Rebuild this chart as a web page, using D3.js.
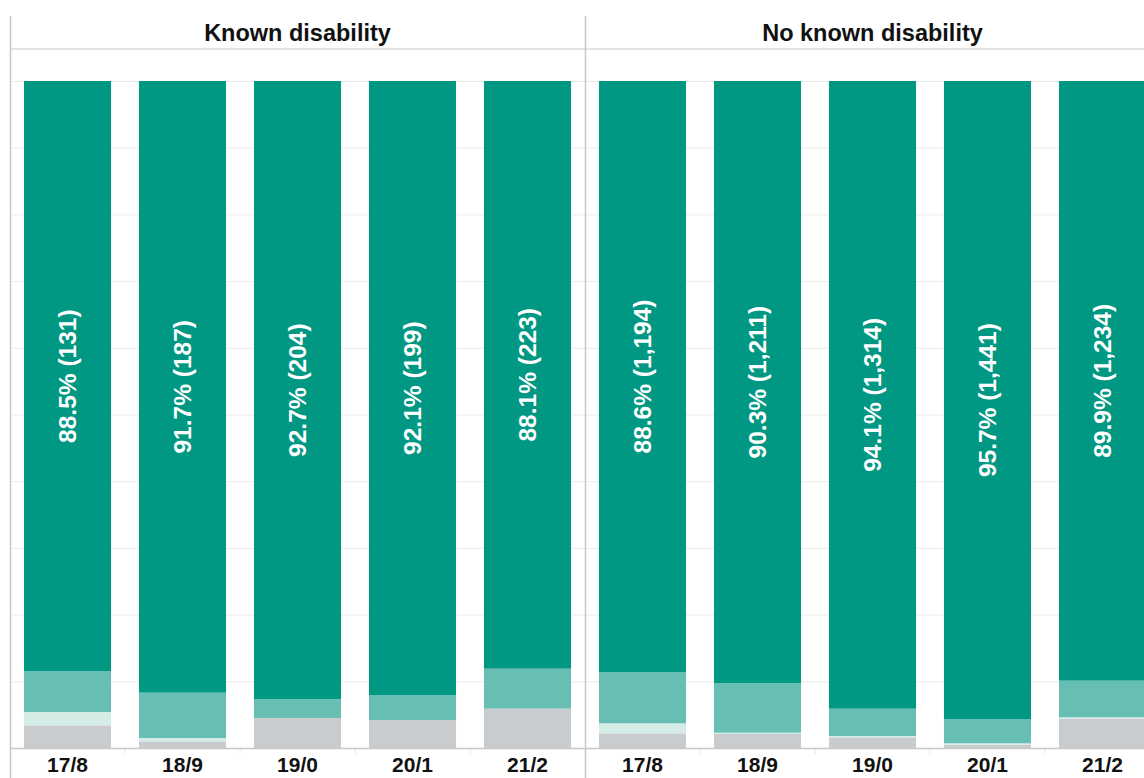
<!DOCTYPE html>
<html>
<head>
<meta charset="utf-8">
<script src="https://cdn.jsdelivr.net/npm/d3@7"></script>
<style>
  body { margin: 0; background: #fff; }
  svg { display: block; font-family: "Liberation Sans", Arial, sans-serif; }
</style>
</head>
<body>
<svg id="root"></svg>
<script>
// categories
const panels = ["Known disability", "No known disability"];
const years = ["17/8", "18/9", "19/0", "20/1", "21/2"];
const segments = ["grey", "light", "medium", "dark"];

// percentages per segment, Known disability
const knownGrey = [3.4, 1.0, 4.5, 4.2, 5.9];
const knownLight = [2.0, 0.5, 0, 0, 0];
const knownMedium = [6.1, 6.8, 2.8, 3.7, 6.0];
const knownDark = [88.5, 91.7, 92.7, 92.1, 88.1];
const knownCount = [131, 187, 204, 199, 223];

// percentages per segment, No known disability
const noGrey = [2.2, 2.1, 1.6, 0.5, 4.4];
const noLight = [1.5, 0.2, 0.2, 0.2, 0.2];
const noMedium = [7.7, 7.4, 4.1, 3.6, 5.5];
const noDark = [88.6, 90.3, 94.1, 95.7, 89.9];
const noCount = [1194, 1211, 1314, 1441, 1234];

const yTicks = [10, 20, 30, 40, 50, 60, 70, 80, 90, 100];

const colors = { grey: "#c9cccf", light: "#d5ebe6", medium: "#67bfb3", dark: "#009783" };

const width = 1144, height = 778;
const plotTop = 81, base = 748, left = 10;

const svg = d3.select("#root").attr("width", width).attr("height", height);

// build rows for the stack
function rows(grey, light, medium, dark, count) {
  return years.map((yr, i) => ({ year: yr, grey: grey[i], light: light[i], medium: medium[i], dark: dark[i], count: count[i] }));
}
const data = [
  { panel: panels[0], rows: rows(knownGrey, knownLight, knownMedium, knownDark, knownCount) },
  { panel: panels[1], rows: rows(noGrey, noLight, noMedium, noDark, noCount) }
];

const px = d3.scaleBand(panels, [left, left + 575 * 2]);
const x = d3.scaleBand(years, [0, px.bandwidth()]).paddingInner(0.243).paddingOuter(0.1215);
const y = d3.scaleLinear([0, 100], [base, plotTop]);

const stack = d3.stack().keys(segments);

data.forEach(p => {
  const g = svg.append("g").attr("transform", `translate(${px(p.panel)},0)`);

  // gridlines
  g.append("g")
    .call(d3.axisRight(y).tickValues(yTicks).tickSize(px.bandwidth()).tickFormat(""))
    .call(a => a.select(".domain").remove())
    .selectAll("line").attr("stroke", "#ececec");

  // bars
  const series = stack(p.rows);
  g.selectAll("g.seg").data(series).join("g")
    .attr("class", "seg")
    .attr("fill", d => colors[d.key])
    .selectAll("rect").data(d => d).join("rect")
    .attr("x", d => x(d.data.year))
    .attr("width", x.bandwidth())
    .attr("y", d => y(d[1]))
    .attr("height", d => y(d[0]) - y(d[1]));

  // labels in the dark segment
  const darkS = series.find(s => s.key === "dark");
  g.selectAll("text.lab").data(darkS).join("text")
    .attr("class", "lab")
    .attr("transform", d => `translate(${x(d.data.year) + x.bandwidth() / 2},${(y(d[0]) + y(d[1])) / 2}) rotate(-90)`)
    .attr("text-anchor", "middle")
    .attr("dominant-baseline", "central")
    .attr("fill", "#fff")
    .attr("font-size", 24.5)
    .attr("font-weight", "bold")
    .text(d => `${d.data.dark.toFixed(1)}% (${d3.format(",")(d.data.count)})`);

  // x axis labels
  g.append("g")
    .attr("transform", `translate(0,${base})`)
    .call(d3.axisBottom(x).tickSize(0).tickPadding(9))
    .call(a => a.select(".domain").remove())
    .selectAll("text")
    .attr("fill", "#111")
    .attr("font-size", 21)
    .attr("font-weight", "bold")
    .attr("font-family", "Liberation Sans, Arial, sans-serif");

  // faint tick marks between categories
  g.selectAll("line.sep").data(years.slice(1)).join("line")
    .attr("class", "sep")
    .attr("x1", d => x(d) - x.step() * x.paddingInner() / 2)
    .attr("x2", d => x(d) - x.step() * x.paddingInner() / 2)
    .attr("y1", base).attr("y2", base + 6)
    .attr("stroke", "#e8e8e8");

  // panel title
  g.append("text")
    .attr("x", px.bandwidth() / 2)
    .attr("y", 41)
    .attr("text-anchor", "middle")
    .attr("font-size", 23.5)
    .attr("font-weight", "bold")
    .attr("fill", "#111")
    .text(p.panel);
});

// frame lines
svg.append("line").attr("x1", left).attr("x2", width).attr("y1", 49).attr("y2", 49).attr("stroke", "#c8c8c8");
svg.append("line").attr("x1", left).attr("x2", width).attr("y1", base + 0.5).attr("y2", base + 0.5).attr("stroke", "#c8c8c8").attr("stroke-width", 1.5);
svg.append("line").attr("x1", left + 0.5).attr("x2", left + 0.5).attr("y1", 16).attr("y2", height).attr("stroke", "#c8c8c8").attr("stroke-width", 1.5);
svg.append("line").attr("x1", px(panels[1]) + 0.5).attr("x2", px(panels[1]) + 0.5).attr("y1", 16).attr("y2", height).attr("stroke", "#c8c8c8").attr("stroke-width", 1.5);
</script>
</body>
</html>
